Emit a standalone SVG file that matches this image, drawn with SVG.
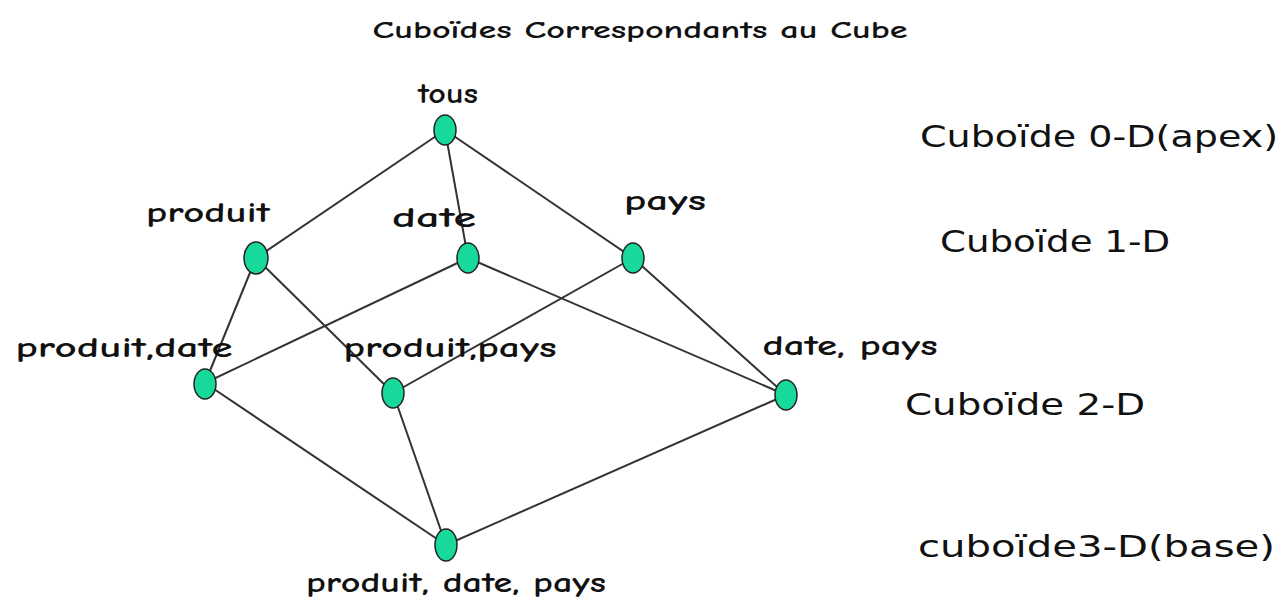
<svg xmlns="http://www.w3.org/2000/svg" width="1285" height="603" viewBox="0 0 1285 603">
<style>
.e{stroke:#333;stroke-width:2;fill:none}
.n{fill:#18d99c;stroke:#222;stroke-width:1.5}
.t{font-family:"Comic Neue","DejaVu Sans","Liberation Sans",sans-serif;font-weight:bold;fill:#111;text-anchor:middle}
.r{font-family:"DejaVu Sans","Liberation Sans",sans-serif;fill:#111}
</style>
<rect width="1285" height="603" fill="#fff"/>
<text class="t" x="640" y="38" font-size="25" textLength="535" lengthAdjust="spacingAndGlyphs">Cuboïdes Correspondants au Cube</text>
<g id="connectors">
<line class="e" x1="445" y1="130" x2="256" y2="258"/>
<line class="e" x1="445" y1="130" x2="468" y2="258"/>
<line class="e" x1="445" y1="130" x2="633" y2="258"/>
<line class="e" x1="633" y1="258" x2="786" y2="395"/>
<line class="e" x1="256" y1="258" x2="205" y2="383"/>
<line class="e" x1="256" y1="258" x2="393" y2="393"/>
<line class="e" x1="468" y1="258" x2="205" y2="383"/>
<line class="e" x1="468" y1="258" x2="786" y2="395"/>
<line class="e" x1="633" y1="258" x2="393" y2="393"/>
<line class="e" x1="205" y1="383" x2="446" y2="545"/>
<line class="e" x1="393" y1="393" x2="446" y2="545"/>
<line class="e" x1="786" y1="395" x2="446" y2="545"/>
</g>
<g id="tous"><ellipse class="n" cx="445" cy="130" rx="11" ry="15"/><text class="t" x="448" y="103" font-size="28" textLength="60" lengthAdjust="spacingAndGlyphs">tous</text></g>
<g id="produit"><ellipse class="n" cx="256" cy="258" rx="12" ry="16"/><text class="t" x="208" y="222" font-size="28" textLength="124" lengthAdjust="spacingAndGlyphs">produit</text></g>
<g id="date"><ellipse class="n" cx="468" cy="258" rx="11" ry="15"/><text class="t" x="434" y="227" font-size="28" textLength="84" lengthAdjust="spacingAndGlyphs">date</text></g>
<g id="pays"><ellipse class="n" cx="633" cy="258" rx="11" ry="15"/><text class="t" x="665" y="210" font-size="28" textLength="82" lengthAdjust="spacingAndGlyphs">pays</text></g>
<g id="produit-date"><ellipse class="n" cx="205" cy="384" rx="11" ry="15"/><text class="t" x="124" y="357" font-size="28" textLength="217" lengthAdjust="spacingAndGlyphs">produit,date</text></g>
<g id="produit-pays"><ellipse class="n" cx="393" cy="393" rx="11" ry="15"/><text class="t" x="450" y="357" font-size="28" textLength="213" lengthAdjust="spacingAndGlyphs">produit,pays</text></g>
<g id="date-pays"><ellipse class="n" cx="786" cy="395" rx="11" ry="15"/><text class="t" x="850" y="355" font-size="28" textLength="175" lengthAdjust="spacingAndGlyphs">date, pays</text></g>
<g id="produit-date-pays"><ellipse class="n" cx="446" cy="545" rx="11" ry="16"/><text class="t" x="456" y="592" font-size="28" textLength="300" lengthAdjust="spacingAndGlyphs">produit, date, pays</text></g>
<g id="levels">
<text class="r" x="920" y="147" font-size="31" textLength="358" lengthAdjust="spacingAndGlyphs">Cuboïde 0-D(apex)</text>
<text class="r" x="940" y="252" font-size="31" textLength="230" lengthAdjust="spacingAndGlyphs">Cuboïde 1-D</text>
<text class="r" x="905" y="415" font-size="31" textLength="240" lengthAdjust="spacingAndGlyphs">Cuboïde 2-D</text>
<text class="r" x="918" y="557" font-size="31" textLength="357" lengthAdjust="spacingAndGlyphs">cuboïde3-D(base)</text>
</g>
</svg>
